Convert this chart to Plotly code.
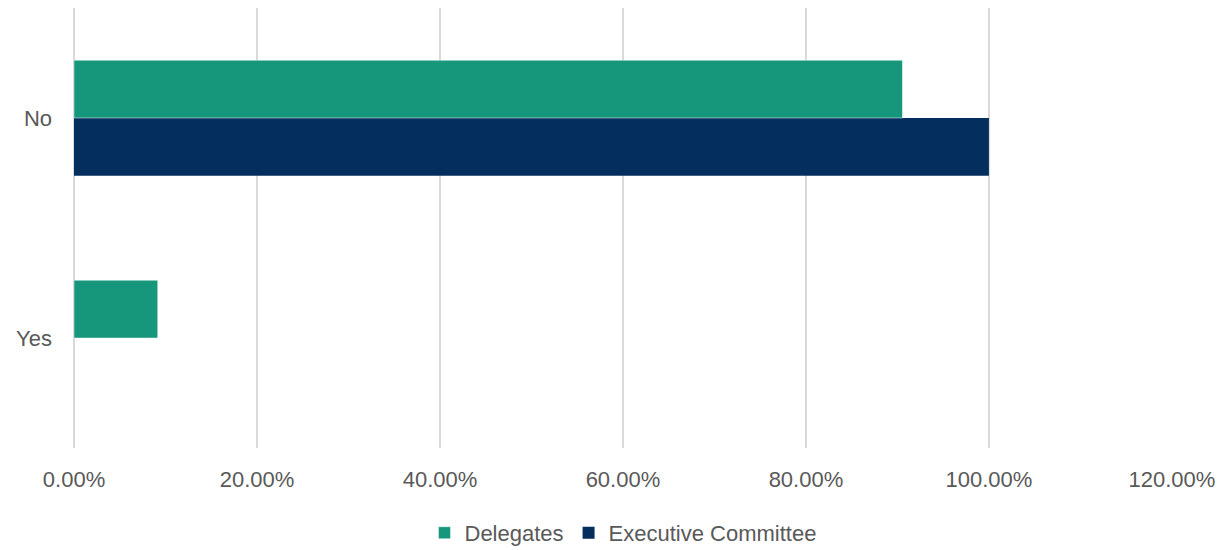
import plotly.graph_objects as go

categories = ["Yes", "No"]
delegates = [0.0915, 0.9055]
executive = [0.0, 1.0]
tick_vals = [0, 0.2, 0.4, 0.6, 0.8, 1.0, 1.2]

font_family = "Liberation Sans, Arial, sans-serif"
text_color = "#595959"

fig = go.Figure()
fig.add_trace(go.Bar(
    y=categories, x=executive, orientation="h", name="Executive Committee",
    marker=dict(color="#042E5E", line=dict(width=0)),
))
fig.add_trace(go.Bar(
    y=categories, x=delegates, orientation="h", name="Delegates",
    marker=dict(color="#16967A", line=dict(width=0.8, color="rgba(255,255,255,0.6)")),
))

fig.update_layout(
    width=1220, height=542,
    margin=dict(l=65.5, r=55.5, t=0, b=102, autoexpand=False),
    paper_bgcolor="white", plot_bgcolor="white",
    barmode="group", bargap=0.475, bargroupgap=0,
    font=dict(family=font_family, size=22, color=text_color),
    showlegend=True,
    legend=dict(orientation="h", x=0.5, xanchor="center", y=-0.193, yanchor="middle",
                traceorder="reversed", font=dict(size=22, color=text_color),
                itemwidth=30),
    xaxis=dict(range=[0, 1.2001], tickvals=tick_vals, tickformat=".2%",
               showgrid=True, gridcolor="#D9D9D9", gridwidth=2,
               zeroline=True, zerolinecolor="#D9D9D9", zerolinewidth=2,
               showline=False, ticks="", ticklabelstandoff=16, automargin=False),
    yaxis=dict(categoryorder="array", categoryarray=categories,
               showgrid=False, zeroline=False, showline=False, ticks="",
               ticklabelstandoff=21, automargin=False),
)

fig.write_html("out.html")
